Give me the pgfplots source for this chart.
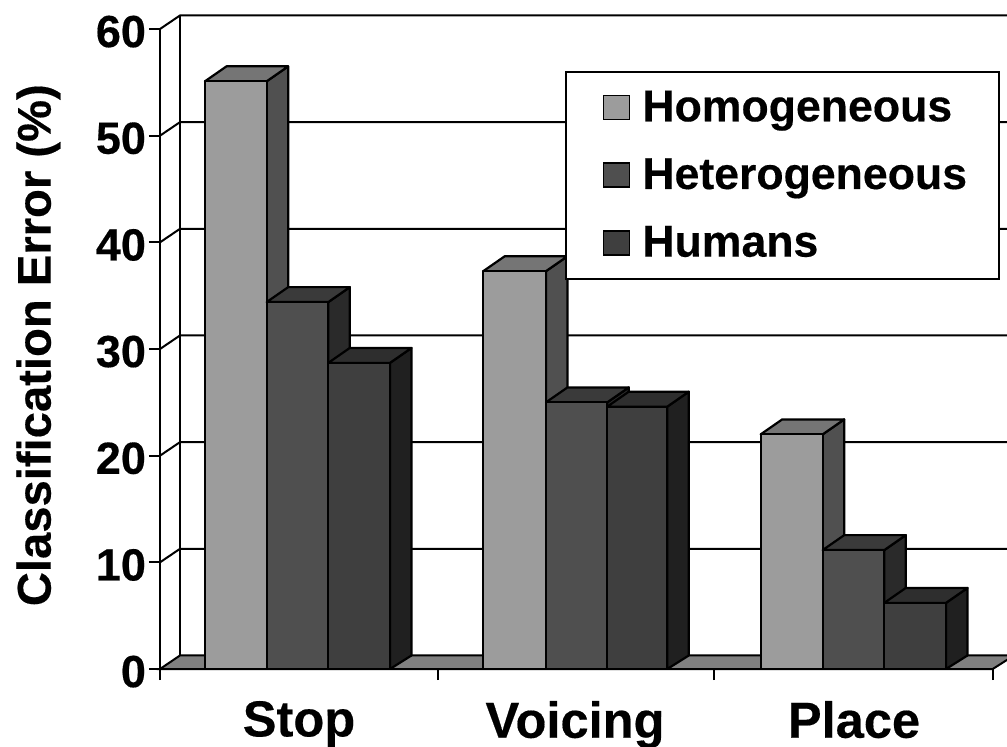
\documentclass[border=0pt]{standalone}
\usepackage{fontspec}
\setmainfont{Liberation Sans}[BoldFeatures={FakeBold=0.35}]
\usepackage{pgfplots}
\pgfplotsset{compat=1.18}

\definecolor{frontA}{HTML}{9C9C9C}
\definecolor{topA}{HTML}{757575}
\definecolor{sideA}{HTML}{505050}
\definecolor{frontB}{HTML}{4F4F4F}
\definecolor{topB}{HTML}{3A3A3A}
\definecolor{sideB}{HTML}{2A2A2A}
\definecolor{frontC}{HTML}{3F3F3F}
\definecolor{topC}{HTML}{2E2E2E}
\definecolor{sideC}{HTML}{202020}
\definecolor{floorgray}{HTML}{808080}

% left edge, right edge, value, colour suffix (x runs in picture pixels)
\newcommand{\boxbar}[4]{%
  \pgfmathsetmacro\xl{#1+21.5}%
  \pgfmathsetmacro\xr{#2+21.5}%
  \pgfmathsetmacro\yb{#3+1.4}%
  \pgfmathsetmacro\yz{1.27}%
  \addplot[fill=side#4,draw=black,line width=1.1pt,forget plot,no markers,line join=round]
    coordinates {(#2,0) (\xr,\yz) (\xr,\yb) (#2,#3)} -- cycle;
  \addplot[fill=top#4,draw=black,line width=1.1pt,forget plot,no markers,line join=round]
    coordinates {(#1,#3) (\xl,\yb) (\xr,\yb) (#2,#3)} -- cycle;
  \addplot[fill=front#4,draw=black,line width=1.1pt,forget plot,no markers,line join=round]
    coordinates {(#1,0) (#2,0) (#2,#3) (#1,#3)} -- cycle;
}
\newcommand{\wallline}[1]{%
  \pgfmathsetmacro\yb{#1+1.27}%
  \addplot[black,line width=1pt,forget plot,no markers]
    coordinates {(160,#1) (180,\yb) (1007,\yb)};
}

\begin{document}
\begin{tikzpicture}
\useasboundingbox (-80pt,-38.5pt) rectangle (423.5pt,334.5pt);
\begin{axis}[
  at={(0,0)},anchor=origin,
  x=0.5pt,y=5.3333pt,
  xmin=160,xmax=992.7,
  ymin=0,ymax=60,
  clip=false,
  axis x line*=bottom,
  axis y line*=left,
  axis line style={line width=1pt,-},
  tick style={line width=1pt,black},
  tick align=outside,
  major tick length=5.5pt,
  ytick={0,10,...,60},
  xtick={160,437.5,714,992.7},
  xticklabels={},
  extra x ticks={299,575,854},
  extra x tick labels={Stop,Voicing,Place},
  extra x tick style={major tick length=0pt},
  x tick label style={font=\fontsize{25.3}{28}\bfseries\selectfont,yshift=-12.5pt},
  y tick label style={font=\fontsize{22.5}{26}\bfseries\selectfont,xshift=2pt,yshift=-1.3pt},
  /pgf/number format/assume math mode=true,
  ylabel={Classification Error (\%)},
  every axis y label/.style={at={(axis description cs:-0.146,0.506)},rotate=90,anchor=center,font=\fontsize{23.6}{27}\bfseries\selectfont},
  legend style={at={(0.486,0.935)},anchor=north west,draw=black,line width=1pt,fill=white,
    font=\fontsize{22.3}{26}\bfseries\selectfont,inner xsep=14pt,inner ysep=7.5pt,row sep=13pt,
    /tikz/every odd column/.append style={column sep=4pt}},
  legend cell align=left,
  legend image code/.code={\path[draw=none,fill=none] (0pt,0pt) -- (5pt,0pt);\draw[#1,line width=.7pt] (5pt,-6pt) rectangle (18pt,6pt);},
]
% floor and back wall
\addplot[fill=floorgray,draw=black,line width=1pt,forget plot,no markers]
  coordinates {(160,0) (180,1.27) (1014,1.27) (992.7,0)} -- cycle;
\wallline{10}\wallline{20}\wallline{30}\wallline{40}\wallline{50}\wallline{60}
\addplot[black,line width=1pt,forget plot,no markers]
  coordinates {(180,1.27) (180,61.27)};

% Stop
\boxbar{205}{266.7}{55.1}{A}
\boxbar{266.7}{328.3}{34.4}{B}
\boxbar{328.3}{390}{28.7}{C}
% Voicing
\boxbar{483.3}{546}{37.3}{A}
\boxbar{546}{607.3}{25.0}{B}
\boxbar{607.3}{667.3}{24.6}{C}
% Place
\boxbar{760.7}{822.7}{22.0}{A}
\boxbar{822.7}{884.3}{11.15}{B}
\boxbar{884.3}{946}{6.2}{C}

\addlegendimage{fill=frontA,draw=black}
\addlegendentry{Homogeneous}
\addlegendimage{fill=frontB,draw=black}
\addlegendentry{Heterogeneous}
\addlegendimage{fill=frontC,draw=black}
\addlegendentry{Humans}
\end{axis}
\end{tikzpicture}
\end{document}
